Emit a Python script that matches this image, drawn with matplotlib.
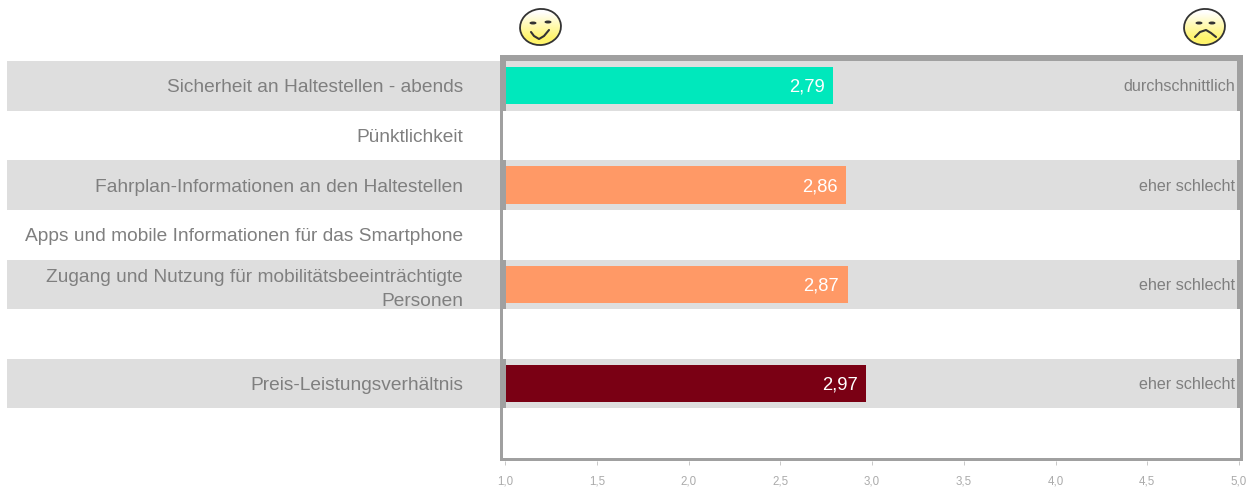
import matplotlib
matplotlib.use('Agg')
import numpy as np
from matplotlib import pyplot as plt
from matplotlib.patches import Ellipse, Rectangle

plt.rcParams['font.family'] = ['Liberation Sans', 'DejaVu Sans']

categories = ['Sicherheit an Haltestellen - abends', 'Pünktlichkeit',
              'Fahrplan-Informationen an den Haltestellen',
              'Apps und mobile Informationen für das Smartphone',
              'Zugang und Nutzung für mobilitätsbeeinträchtigte\nPersonen',
              '', 'Preis-Leistungsverhältnis', '']
values = [2.79, None, 2.86, None, 2.87, None, 2.97, None]
verdicts = ['durchschnittlich', '', 'eher schlecht', '', 'eher schlecht', '', 'eher schlecht', '']
bar_colors = ['#00E8BC', None, '#FF9966', None, '#FF9966', None, '#7A0014', None]
banded = [True, False, True, False, True, False, True, False]
ticks = [1.0, 1.5, 2.0, 2.5, 3.0, 3.5, 4.0, 4.5, 5.0]
tick_labels = ['1,0', '1,5', '2,0', '2,5', '3,0', '3,5', '4,0', '4,5', '5,0']

W, H = 1253, 492
BAND = '#DEDEDE'
FRAME = '#A0A0A0'
TEXT = '#7F7F7F'
px = 0.72  # points per pixel at dpi 100

fig = plt.figure(figsize=(W / 100, H / 100), dpi=100)

# main axes, 505-1239 px across and 61-458 px down
ax = fig.add_axes([505 / W, 1 - 458 / H, 734 / W, 397 / H], zorder=1)
ax.patch.set_alpha(0)
ax.set_xlim(1, 5)
ax.set_ylim(len(categories) - 0.5, -0.5)

left_frac = (7 - 505) / 734
right_frac = (1238 - 505) / 734
for i, on in enumerate(banded):
    if on:
        ax.axhspan(i - 0.5, i + 0.5, xmin=left_frac, xmax=right_frac, color=BAND,
                   lw=0, clip_on=False, zorder=0)

for i, v in enumerate(values):
    if v is None:
        continue
    ax.barh(i, v - 1, left=1, height=0.75, color=bar_colors[i], zorder=2)
    ax.annotate(f'{v:.2f}'.replace('.', ','), (v, i), xytext=(-9 * px, -1.5 * px),
                textcoords='offset points', ha='right', va='center',
                color='white', fontsize=13.2, zorder=3)

for i, t in enumerate(verdicts):
    if t:
        ax.annotate(t, (5, i), xytext=(-4 * px, -1 * px), textcoords='offset points',
                    ha='right', va='center', color=TEXT, fontsize=11.6, zorder=3)

for s in ax.spines.values():
    s.set_visible(False)
ax.spines['bottom'].set_position(('outward', 3 * px))

ax.set_xticks(ticks)
ax.set_xticklabels(tick_labels)
ax.tick_params(axis='x', length=4 * px, width=0.7, color='#C8C8C8', pad=10.5 * px,
               labelcolor='#ABABAB', labelsize=8.3)
ax.set_yticks(range(len(categories)))
ax.set_yticklabels(categories)
ax.tick_params(axis='y', length=0, pad=42 * px, labelcolor=TEXT, labelsize=13.75)
for lab in ax.get_yticklabels():
    lab.set_multialignment('right')
    lab.set_linespacing(1.5)

# overlay in pixel coordinates for the frame and the smileys
ov = fig.add_axes([0, 0, 1, 1], zorder=2)
ov.patch.set_alpha(0)
ov.axis('off')


def frame_rect(x0, y0, x1, y1):
    ov.add_patch(Rectangle((x0, y0), x1 - x0, y1 - y0, color=FRAME, lw=0))


frame_rect(500, 55, 1243, 61)
frame_rect(500, 458, 1243, 461)
frame_rect(500, 55, 502.5, 461)
frame_rect(1240, 55, 1243, 461)
row_h = 397 / len(categories)
for i, on in enumerate(banded):
    if on:
        frame_rect(500, 61 + i * row_h, 506, 61 + (i + 1) * row_h)
        frame_rect(1237, 61 + i * row_h, 1243, 61 + (i + 1) * row_h)


def smiley(cx, cy, eyes, mouth):
    grad = np.linspace(0, 1, 64).reshape(-1, 1, 1)
    white = np.array([1, 1, 1]).reshape(1, 1, 3)
    yellow = np.array([1, 0.96, 0.42]).reshape(1, 1, 3)
    img = white + (yellow - white) * np.clip((grad - 0.1) * 1.4, 0, 1)
    im = ov.imshow(img, extent=(cx - 21, cx + 21, cy + 18.5, cy - 18.5), aspect='auto', zorder=1)
    outline = Ellipse((cx, cy), 41, 36, angle=-8, fc='none', ec='#333333', lw=1.3, zorder=2)
    ov.add_patch(outline)
    clip = Ellipse((cx, cy), 41, 36, angle=-8, transform=ov.transData)
    im.set_clip_path(clip)
    for ex, ey in eyes:
        ov.add_patch(Ellipse((ex, ey), 7, 3, color='#333333', lw=0, zorder=3))
    ov.plot([m[0] for m in mouth], [m[1] for m in mouth], color='#333333', lw=1.5,
            solid_capstyle='round', zorder=3)


smiley(540.5, 27, [(533, 23), (548, 22)],
       [(531, 32), (534, 36), (539, 39), (544, 36), (549, 30)])
smiley(1204.5, 27, [(1199, 23), (1212, 23)],
       [(1195, 37), (1200, 32), (1206, 30), (1211, 33), (1216, 37)])

ov.set_xlim(0, W)
ov.set_ylim(H, 0)

fig.savefig('out.png', dpi=100)
